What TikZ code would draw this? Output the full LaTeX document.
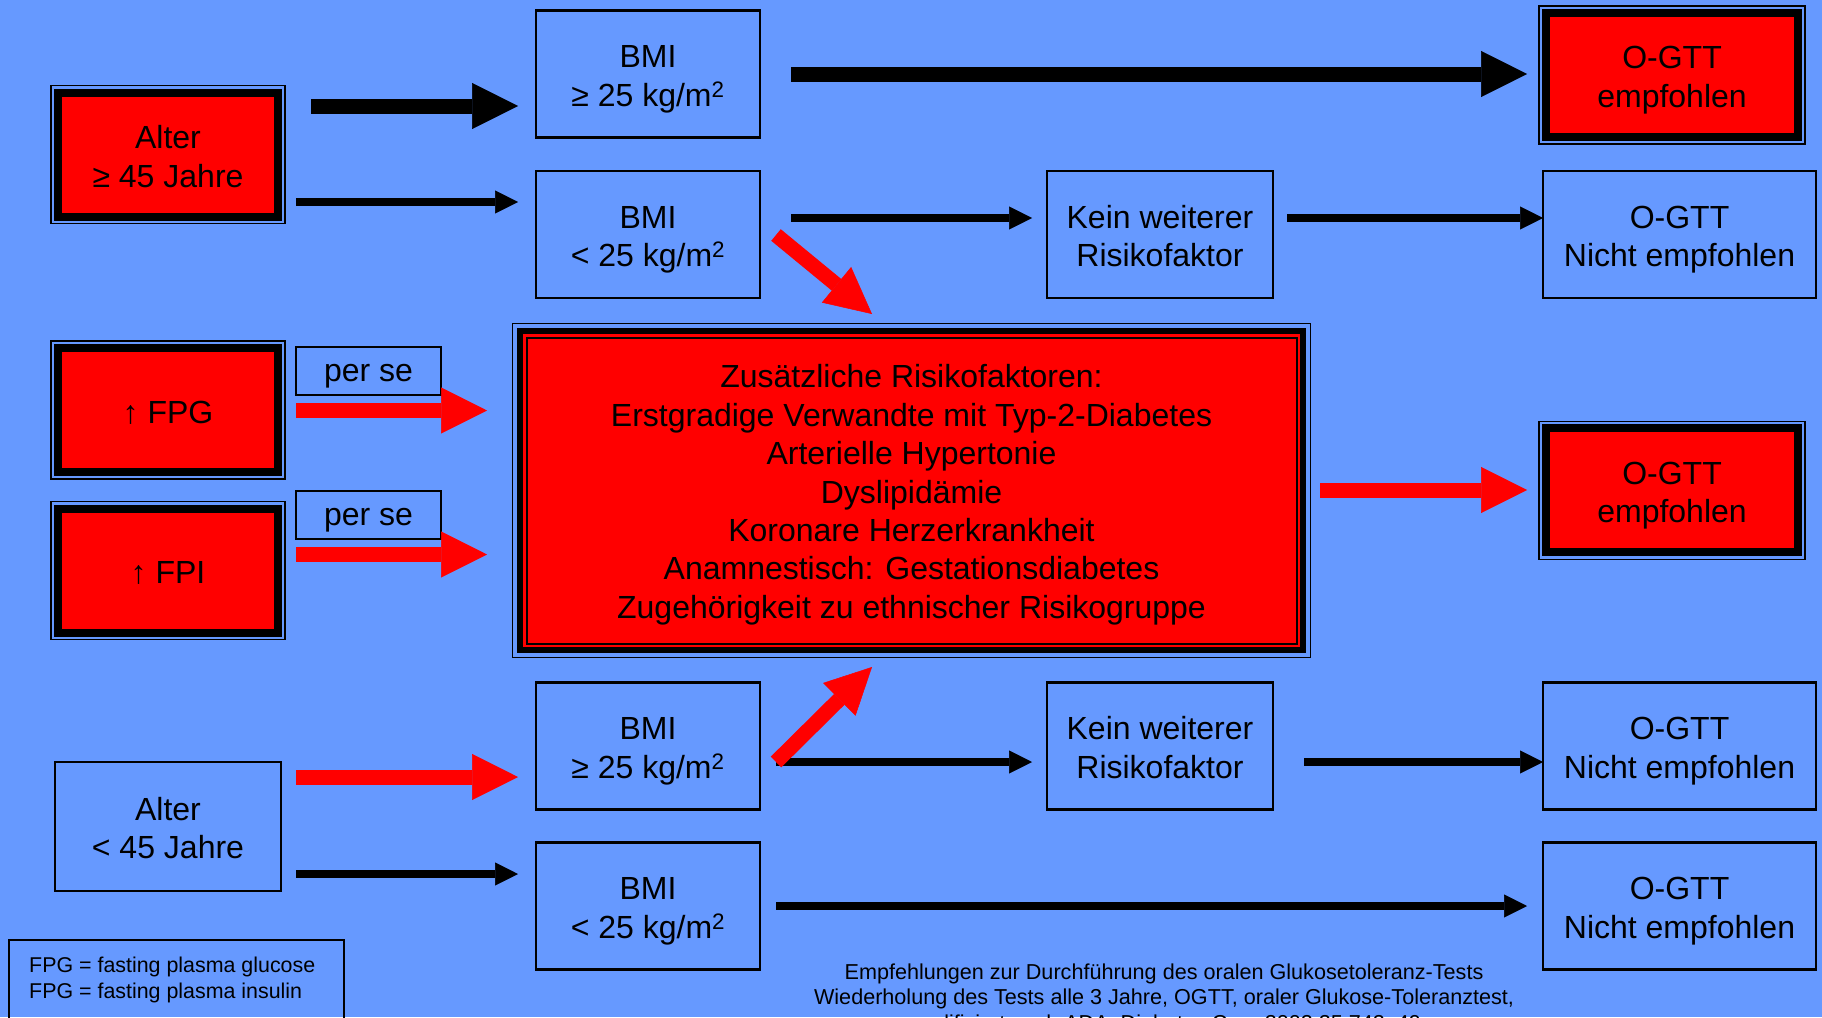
\documentclass[tikz,border=0pt]{standalone}
\usepackage{fontspec}
\setmainfont{Liberation Sans}
\usetikzlibrary{arrows.meta}
\definecolor{bg}{HTML}{6699FF}
\definecolor{alarm}{HTML}{FF0000}
% centred lines with uniform line boxes, lowered a little inside the frame
\newcommand\boxtext[2][-5.5pt]{\raisebox{#1}[\height][\depth]{\begin{tabular}{@{}c@{}}#2\end{tabular}}}

\begin{document}
\begin{tikzpicture}[x=1pt,y=-1pt,
  txt/.style={font=\fontsize{32}{38.4}\selectfont, inner sep=0pt, outer sep=0pt},
  bluebox/.style={txt, draw=black, line width=2.2pt, minimum width=224pt, minimum height=127pt},
  widebox/.style={bluebox, minimum width=273pt},
  tagbox/.style={txt, draw=black, line width=2.2pt, minimum width=145pt, minimum height=48pt},
  redbox/.style={txt, fill=alarm, draw=black, line width=8pt, minimum width=220pt, minimum height=124pt},
  ring/.style={draw=black, line width=1.5pt},
  fat/.style={line width=15pt, -{Triangle[length=46pt 0 0, width=46pt 0 0, line width=0.5pt 0 0]}},
  slim/.style={line width=8pt, -{Triangle[length=23pt 0 0, width=23pt 0 0, line width=0.5pt 0 0]}},
  small/.style={font=\fontsize{21.4}{25.5}\selectfont, inner sep=0pt}
]
\useasboundingbox (0,0) rectangle (1822,1017);
\clip (0,0) rectangle (1822,1017);
\fill[bg] (0,0) rectangle (1822,1017);

% --- left column: entry criteria
\node[redbox] (alt1) at (168,154.7) {\boxtext{Alter\\≥ 45 Jahre}};
\node[redbox] (fpg)  at (168,410)   {\boxtext{↑ FPG}};
\node[redbox] (fpi)  at (168,570.5) {\boxtext{↑ FPI}};
\node[bluebox, minimum width=226pt, minimum height=129pt] (alt2) at (168,826.5) {\boxtext{Alter\\< 45 Jahre}};

\node[tagbox] (perse1) at (368.5,371) {\boxtext[-3pt]{per se}};
\node[tagbox] (perse2) at (368.5,515) {\boxtext[-3pt]{per se}};

% --- BMI column
\node[bluebox] (bmi1) at (648,74)    {\boxtext{BMI\\≥ 25 kg/m\textsuperscript{2}}};
\node[bluebox] (bmi2) at (648,234.5) {\boxtext{BMI\\< 25 kg/m\textsuperscript{2}}};
\node[bluebox] (bmi3) at (648,746)   {\boxtext{BMI\\≥ 25 kg/m\textsuperscript{2}}};
\node[bluebox] (bmi4) at (648,906)   {\boxtext{BMI\\< 25 kg/m\textsuperscript{2}}};

% --- no further risk factor
\node[bluebox, minimum width=226pt] (kein1) at (1160,234.5) {\boxtext{Kein weiterer\\Risikofaktor}};
\node[bluebox, minimum width=226pt] (kein2) at (1160,746)   {\boxtext{Kein weiterer\\Risikofaktor}};

% --- central block of additional risk factors
\node[txt, fill=alarm, draw=black, line width=6pt, minimum width=783pt, minimum height=319pt] (risk) at (911.5,490.5)
  {\boxtext[-5pt]{Zusätzliche Risikofaktoren:\\Erstgradige Verwandte mit Typ-2-Diabetes\\Arterielle Hypertonie\\Dyslipidämie\\Koronare Herzerkrankheit\\Anamnestisch: Gestationsdiabetes\\Zugehörigkeit zu ethnischer Risikogruppe}};
\draw[ring] ([shift={(-7.5,-7.5)}]risk.north west) rectangle ([shift={(7.5,7.5)}]risk.south east);
\draw[black, line width=2pt] ([shift={(6.5,6.5)}]risk.north west) rectangle ([shift={(-6.5,-6.5)}]risk.south east);

% --- results column
\node[redbox, minimum width=252pt] (ogtt1) at (1672,74.75) {\boxtext{O-GTT\\empfohlen}};
\node[redbox, minimum width=252pt] (ogtt2) at (1672,490.3) {\boxtext{O-GTT\\empfohlen}};
\node[widebox] (nein1) at (1679.5,234.5) {\boxtext{O-GTT\\Nicht empfohlen}};
\node[widebox] (nein2) at (1679.5,746)   {\boxtext{O-GTT\\Nicht empfohlen}};
\node[widebox] (nein3) at (1679.5,906)   {\boxtext{O-GTT\\Nicht empfohlen}};

% outer frame lines of the red boxes
\foreach \n in {alt1,fpg,fpi,ogtt1,ogtt2}
  \draw[ring] ([shift={(-7,-7)}]\n.north west) rectangle ([shift={(7,7)}]\n.south east);

% --- connector end points
\coordinate (a1s) at (311,106);   \coordinate (a1e) at (518,106);
\coordinate (a2s) at (791,74);    \coordinate (a2e) at (1527,74);
\coordinate (a3s) at (296,202);   \coordinate (a3e) at (518,202);
\coordinate (a4s) at (791,218);   \coordinate (a4e) at (1032,218);
\coordinate (a5s) at (1287,218);  \coordinate (a5e) at (1543,218);
\coordinate (d1s) at (776,235);   \coordinate (d1e) at (872,314);
\coordinate (p1s) at (296,410.5); \coordinate (p1e) at (487,410.5);
\coordinate (p2s) at (296,554.5); \coordinate (p2e) at (487,554.5);
\coordinate (r1s) at (1320,490);  \coordinate (r1e) at (1527,490);
\coordinate (b1s) at (296,777);   \coordinate (b1e) at (518,777);
\coordinate (b2s) at (296,874);   \coordinate (b2e) at (518,874);
\coordinate (b3s) at (776,762);   \coordinate (b3e) at (1032,762);
\coordinate (b4s) at (1304,762);  \coordinate (b4e) at (1543,762);
\coordinate (b5s) at (776,906);   \coordinate (b5e) at (1527,906);
\coordinate (d2s) at (776,762);   \coordinate (d2e) at (872,667);

% --- black connectors
\draw[fat, black] (a1s) -- (a1e);
\draw[fat, black] (a2s) -- (a2e);
\draw[slim, black] (a3s) -- (a3e);
\draw[slim, black] (a4s) -- (a4e);
\draw[slim, black] (a5s) -- (a5e);
\draw[slim, black] (b2s) -- (b2e);
\draw[slim, black] (b3s) -- (b3e);
\draw[slim, black] (b4s) -- (b4e);
\draw[slim, black] (b5s) -- (b5e);

% --- red connectors
\draw[fat, alarm] (d1s) -- (d1e);
\draw[fat, alarm] (p1s) -- (p1e);
\draw[fat, alarm] (p2s) -- (p2e);
\draw[fat, alarm] (r1s) -- (r1e);
\draw[fat, alarm] (b1s) -- (b1e);
\draw[fat, alarm] (d2s) -- (d2e);

% --- legend and source note
\draw[black, line width=2pt] (8.5,939.5) rectangle (344,1040);
\node[small, anchor=west, align=left] (legend) at (29,980)
  {FPG = fasting plasma glucose\\FPG = fasting plasma insulin};
\node[small, font=\fontsize{21.6}{25.5}\selectfont, align=center] (note) at (1164,998.5)
  {Empfehlungen zur Durchführung des oralen Glukosetoleranz-Tests\\Wiederholung des Tests alle 3 Jahre, OGTT, oraler Glukose-Toleranztest,\\modifiziert nach ADA, Diabetes Care 2002;25:742–49};
\end{tikzpicture}
\end{document}
